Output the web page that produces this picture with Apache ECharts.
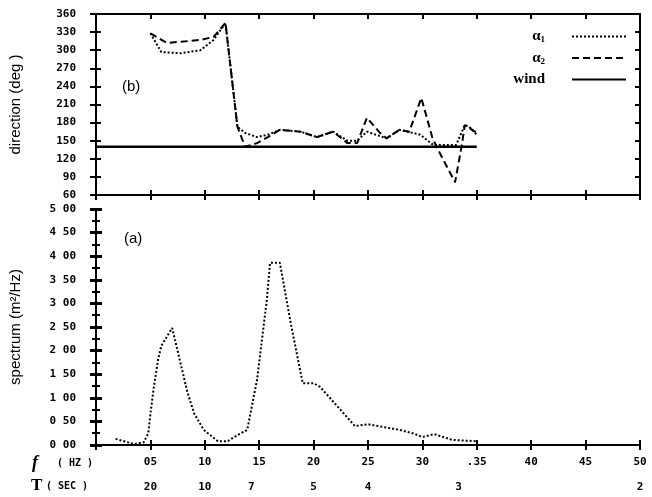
<!DOCTYPE html>
<html>
<head>
<meta charset="utf-8">
<script src="https://cdn.jsdelivr.net/npm/echarts@6/dist/echarts.min.js"></script>
<style>html,body{margin:0;padding:0;background:#fff}#c{width:652px;height:497px}</style>
</head>
<body>
<div id="c"></div>
<script>
// ---- data ----
const xTickLabels = ['', '05', '10', '15', '20', '25', '30', '.35', '40', '45', '50'];
const periodSec = [20, 10, 7, 5, 4, 3, 2];
const specTickLabels = ['0 00', '0 50', '1 00', '1 50', '2 00', '2 50', '3 00', '3 50', '4 00', '4 50', '5 00'];

const specFreq = [0.018, 0.035, 0.044, 0.048, 0.050, 0.053, 0.057, 0.060, 0.070, 0.084, 0.090, 0.099, 0.112, 0.121, 0.130, 0.139, 0.148, 0.157, 0.160, 0.169, 0.179, 0.190, 0.200, 0.206, 0.238, 0.250, 0.279, 0.291, 0.300, 0.311, 0.327, 0.349];
const specVal  = [0.13,  0.02,  0.06,  0.25,  0.65,  1.20,  1.80,  2.10,  2.48,  1.12,  0.68,  0.32,  0.08,  0.08,  0.21,  0.32,  1.38,  3.07,  3.86,  3.86,  2.58,  1.31,  1.31,  1.23,  0.40,  0.44,  0.32,  0.25,  0.17,  0.23,  0.11,  0.08];

const alpha1Freq = [0.050, 0.060, 0.078, 0.096, 0.108, 0.119, 0.130, 0.137, 0.148, 0.158, 0.169, 0.188, 0.203, 0.218, 0.231, 0.240, 0.249, 0.267, 0.279, 0.291, 0.298, 0.310, 0.331, 0.339, 0.343, 0.350];
const alpha1Dir  = [328,   297,   295,   300,   317,   345,   173,   163,   156,   160,   168,   165,   156,   165,   150,   150,   165,   154,   168,   163,   160,   143,   143,   176,   173,   160];

const alpha2Freq = [0.050, 0.065, 0.078, 0.096, 0.108, 0.119, 0.130, 0.137, 0.148, 0.158, 0.169, 0.188, 0.203, 0.218, 0.231, 0.240, 0.249, 0.261, 0.267, 0.279, 0.288, 0.299, 0.309, 0.313, 0.330, 0.336, 0.339, 0.350];
const alpha2Dir  = [328,   312,   314,   317,   322,   345,   173,   140,   146,   156,   168,   165,   156,   165,   146,   146,   188,   163,   154,   168,   165,   221,   156,   140,   81,    140,   176,   163];

const windFreq = [0.0, 0.35];
const windDir  = [140, 140];

// ---- chart ----
const zip = (a, b) => a.map((v, i) => [v, b[i]]);
const K = '#000';
const lineS = {show: true, lineStyle: {color: K, width: 2}};
const monoLbl = {fontFamily: 'DejaVu Sans Mono', fontWeight: 'bold', color: K};

function xAx(grid, pos, o) {
  return Object.assign({
    gridIndex: grid, type: 'value', min: 0, max: 0.5, interval: 0.05, position: pos,
    axisLine: lineS, splitLine: {show: false},
    axisLabel: {show: false},
    axisTick: {show: true, inside: false, length: 5, lineStyle: {color: K, width: 2}}
  }, o);
}
function yDir(pos, inside, o) {
  return Object.assign({
    gridIndex: 0, type: 'value', min: 60, max: 360, interval: 30, position: pos,
    axisLine: lineS, splitLine: {show: false}, axisLabel: {show: false},
    axisTick: {show: true, inside: inside, length: 5, lineStyle: {color: K, width: 2}}
  }, o);
}
function ySpec(pos, inside, o) {
  return Object.assign({
    gridIndex: 1, type: 'value', min: 0, max: 5, interval: 0.5, position: pos,
    axisLine: lineS, splitLine: {show: false}, axisLabel: {show: false},
    axisTick: {show: true, inside: inside, length: 6, lineStyle: {color: K, width: 3}},
    minorTick: {show: true, splitNumber: 2, length: 4, lineStyle: {color: K, width: 2}},
    minorSplitLine: {show: false}
  }, o);
}

const chart = echarts.init(document.getElementById('c'), null, {renderer: 'canvas'});
chart.setOption({
  animation: false,
  backgroundColor: '#fff',
  grid: [
    {left: 96, right: 12, top: 14, height: 181, containLabel: false},
    {left: 96, right: 12, top: 209, height: 236, containLabel: false}
  ],
  xAxis: [
    xAx(0, 'bottom', {}),
    xAx(0, 'bottom', {axisTick: {show: true, inside: true, length: 5, lineStyle: {color: K, width: 2}}}),
    xAx(0, 'top', {axisTick: {show: true, inside: true, length: 5, lineStyle: {color: K, width: 2}}}),
    xAx(1, 'bottom', {
      axisLabel: Object.assign({show: true, fontSize: 11, margin: 12, showMinLabel: true, showMaxLabel: true,
        formatter: v => xTickLabels[Math.round(v / 0.05)]}, monoLbl)
    }),
    xAx(1, 'bottom', {axisTick: {show: true, inside: true, length: 5, lineStyle: {color: K, width: 2}}}),
    xAx(1, 'top', {axisTick: {show: false}}),
    xAx(1, 'bottom', {
      axisLine: {show: false}, axisTick: {show: false},
      axisLabel: Object.assign({show: true, fontSize: 11, margin: 37, showMinLabel: true, showMaxLabel: true,
        customValues: periodSec.map(t => 1 / t),
        formatter: v => String(Math.round(1 / v))}, monoLbl)
    })
  ],
  yAxis: [
    yDir('left', false, {
      axisTick: {show: true, inside: false, length: 6, lineStyle: {color: K, width: 2}},
      axisLabel: Object.assign({show: true, fontSize: 11, margin: 20, showMinLabel: true, showMaxLabel: true}, monoLbl),
      name: 'direction (deg )', nameLocation: 'middle', nameRotate: 90, nameGap: 73,
      nameTextStyle: {fontFamily: 'Liberation Sans', fontSize: 15, color: K}
    }),
    yDir('left', true, {}),
    yDir('right', false, {}),
    yDir('right', true, {}),
    ySpec('left', false, {
      axisLabel: Object.assign({show: true, fontSize: 11, margin: 20, showMinLabel: true, showMaxLabel: true,
        formatter: v => specTickLabels[Math.round(v / 0.5)]}, monoLbl),
      name: 'spectrum (m²/Hz)', nameLocation: 'middle', nameRotate: 90, nameGap: 73,
      nameTextStyle: {fontFamily: 'Liberation Sans', fontSize: 15, color: K}
    }),
    ySpec('left', true, {}),
    ySpec('right', false, {}),
    ySpec('right', true, {})
  ],
  legend: {
    data: ['α1', 'α2', 'wind'],
    orient: 'vertical', right: 20, top: 24,
    align: 'right', itemWidth: 54, itemHeight: 10, itemGap: 6,
    itemStyle: {opacity: 0, borderWidth: 0},
    formatter: n => n === 'wind' ? 'wind' : 'α{s|' + n.slice(1) + '}',
    textStyle: {
      fontFamily: 'Liberation Serif', fontWeight: 'bold', fontSize: 15, color: K, padding: [0, 22, 0, 0],
      rich: {s: {fontFamily: 'Liberation Serif', fontWeight: 'bold', fontSize: 9, color: K, padding: [7, 0, 0, 0]}}
    }
  },
  graphic: [
    {type: 'text', left: 122, top: 79, style: {text: '(b)', font: '15px "Liberation Sans"', fill: K}},
    {type: 'text', left: 124, top: 231, style: {text: '(a)', font: '15px "Liberation Sans"', fill: K}},
    {type: 'text', left: 32, top: 454, style: {text: 'f', font: 'italic bold 18px "Liberation Serif"', fill: K}},
    {type: 'text', left: 57, top: 458, style: {text: '( HZ )', font: 'bold 10px "DejaVu Sans Mono"', fill: K}},
    {type: 'text', left: 31, top: 477, style: {text: 'T', font: 'bold 17px "Liberation Serif"', fill: K}},
    {type: 'text', left: 46, top: 481, style: {text: '( SEC )', font: 'bold 10px "DejaVu Sans Mono"', fill: K}}
  ],
  series: [
    {name: 'α1', type: 'line', xAxisIndex: 0, yAxisIndex: 0, data: zip(alpha1Freq, alpha1Dir),
      symbol: 'none', lineStyle: {color: K, width: 2, type: [2, 2]}, itemStyle: {color: K}},
    {name: 'α2', type: 'line', xAxisIndex: 0, yAxisIndex: 0, data: zip(alpha2Freq, alpha2Dir),
      symbol: 'none', lineStyle: {color: K, width: 2, type: [7, 4]}, itemStyle: {color: K}},
    {name: 'wind', type: 'line', xAxisIndex: 0, yAxisIndex: 0, data: zip(windFreq, windDir),
      symbol: 'none', lineStyle: {color: K, width: 2.5, type: 'solid'}, itemStyle: {color: K}},
    {name: 'spectrum', type: 'line', xAxisIndex: 3, yAxisIndex: 4, data: zip(specFreq, specVal),
      symbol: 'none', lineStyle: {color: K, width: 2, type: [2, 2]}, itemStyle: {color: K}}
  ]
});
</script>
</body>
</html>
